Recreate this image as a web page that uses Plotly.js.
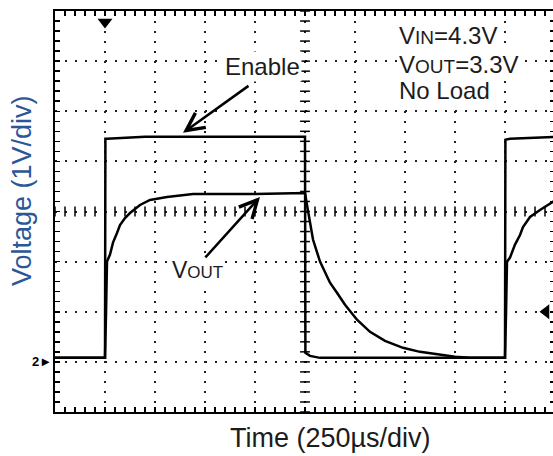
<!DOCTYPE html>
<html>
<head>
<meta charset="utf-8">
<script src="https://cdn.plot.ly/plotly-3.0.1.min.js"></script>
<style>
html,body{margin:0;padding:0;overflow:hidden;background:#fff;}
#chart{width:556px;height:456px;}
</style>
</head>
<body>
<div id="chart"></div>
<script>
// Time in microseconds (250 µs/div), voltage in volts (1 V/div)
const enableTime = [0, 245, 250, 252, 260, 450, 1245, 1250, 1252, 1275, 1325, 2245, 2250, 2252, 2275, 2500];
const enableVolt = [0.08, 0.08, 0.08, 4.45, 4.45, 4.49, 4.49, 4.49, 0.18, 0.12, 0.08, 0.08, 0.08, 4.43, 4.45, 4.49];

const voutTime = [0, 245, 250, 255, 260, 275, 290, 310, 325, 350, 375, 425, 475, 560, 690, 1000, 1250,
  1260, 1290, 1325, 1375, 1410, 1450, 1510, 1575, 1650, 1740, 1825, 1925, 2000, 2075, 2250,
  2255, 2260, 2275, 2300, 2325, 2340, 2375, 2425, 2500];
const voutVolt = [0.08, 0.08, 0.08, 0.94, 2.00, 2.14, 2.38, 2.57, 2.73, 2.87, 2.97, 3.13, 3.23, 3.29, 3.35, 3.35, 3.37,
  3.13, 2.44, 2.00, 1.58, 1.38, 1.14, 0.84, 0.60, 0.42, 0.28, 0.20, 0.14, 0.10, 0.08, 0.08,
  0.94, 2.00, 2.08, 2.34, 2.53, 2.69, 2.89, 3.03, 3.22];

const xTitle = 'Time (250µs/div)';
const yTitle = 'Voltage (1V/div)';
const timeRange = [0, 2500];
const voltRange = [-1, 7];
const timePerDiv = 250;
const voltPerDiv = 1;
const triggerTime = 250;
const triggerMarkTop = 6.78;
const triggerLevel = 1;
const triggerLevelTime = 2455;
const groundLevel = 0;

// center-graticule minor ticks
const xc = (timeRange[0] + timeRange[1]) / 2;
const yc = 3;
const hTickX = [], hTickY = [], vTickX = [], vTickY = [];
for (let t = timeRange[0]; t <= timeRange[1] + 1e-6; t += timePerDiv / 5) { hTickX.push(t); hTickY.push(yc); }
for (let v = voltRange[0]; v <= voltRange[1] + 1e-6; v += voltPerDiv / 5) { vTickX.push(xc); vTickY.push(+v.toFixed(2)); }

const font = 'Liberation Sans, Arial, sans-serif';
const txt = '#1c1c1c';

const traces = [
  {x: hTickX, y: hTickY, mode: 'markers', hoverinfo: 'skip', showlegend: false,
   marker: {symbol: 'line-ns', size: 7, line: {width: 1.5, color: '#000'}}},
  {x: vTickX, y: vTickY, mode: 'markers', hoverinfo: 'skip', showlegend: false,
   marker: {symbol: 'line-ew', size: 7, line: {width: 1.5, color: '#000'}}},
  {x: enableTime, y: enableVolt, mode: 'lines', name: 'Enable', showlegend: false,
   line: {color: '#000', width: 2.5}},
  {x: voutTime, y: voutVolt, mode: 'lines', name: 'VOUT', showlegend: false,
   line: {color: '#000', width: 2.5}},
  {x: [triggerTime], y: [triggerMarkTop], mode: 'markers', hoverinfo: 'skip', showlegend: false,
   marker: {symbol: 'triangle-down', size: 13, color: '#000', line: {width: 0}}},
  {x: [triggerLevelTime], y: [triggerLevel], mode: 'markers', hoverinfo: 'skip', showlegend: false,
   marker: {symbol: 'triangle-left', size: 13, color: '#000', line: {width: 0}}}
];

const axisCommon = {
  showline: true, linecolor: '#000', linewidth: 2, mirror: 'ticks',
  ticks: 'inside', ticklen: 5, tickwidth: 1.5, tickcolor: '#000',
  showticklabels: false, zeroline: false,
  showgrid: true, gridcolor: '#222', gridwidth: 2, griddash: '2px,8px'
};

const layout = {
  width: 556, height: 456,
  margin: {l: 55, r: 1, t: 11, b: 44},
  paper_bgcolor: '#fff', plot_bgcolor: '#fff',
  font: {family: font, color: txt},
  showlegend: false,
  xaxis: Object.assign({}, axisCommon, {
    range: timeRange, tick0: 0, dtick: timePerDiv,
    minor: {dtick: timePerDiv / 5, ticks: 'inside', ticklen: 5, tickwidth: 1.5, tickcolor: '#000'}
  }),
  yaxis: Object.assign({}, axisCommon, {
    range: voltRange, tick0: voltRange[0], dtick: voltPerDiv,
    minor: {dtick: voltPerDiv / 5, ticks: 'inside', ticklen: 5, tickwidth: 1.5, tickcolor: '#000'}
  }),
  annotations: [
    {xref: 'paper', yref: 'paper', x: 0.55, y: -0.065, xanchor: 'center', yanchor: 'middle',
     text: xTitle, showarrow: false, font: {size: 27, color: txt}},
    {xref: 'paper', yref: 'paper', x: -0.066, y: 0.551, xanchor: 'center', yanchor: 'middle',
     text: yTitle, showarrow: false, textangle: -90, font: {size: 27, color: '#2b5797'}},
    // Enable label and arrow
    {x: 1035, y: 5.9, text: 'Enable', showarrow: false, bgcolor: '#fff', font: {size: 24, color: txt}},
    {x: 640, y: 4.57, ax: 67, ay: -48, text: '', showarrow: true, arrowhead: 5, arrowsize: 1.4,
     arrowwidth: 2.5, arrowcolor: '#000'},
    // VOUT label and arrow
    {x: 712, y: 1.84, text: 'V<span style="font-size:17px">OUT</span>', showarrow: false, bgcolor: '#fff',
     font: {size: 23, color: txt}},
    {x: 1025, y: 3.29, ax: -56, ay: 62, text: '', showarrow: true, arrowhead: 5, arrowsize: 1.4,
     arrowwidth: 2.5, arrowcolor: '#000'},
    // Conditions
    {x: 1712, y: 6.51, xanchor: 'left', text: 'V<span style="font-size:19px">IN</span>=4.3V', showarrow: false,
     bgcolor: '#fff', font: {size: 24, color: txt}},
    {x: 1712, y: 5.93, xanchor: 'left', text: 'V<span style="font-size:19px">OUT</span>=3.3V', showarrow: false,
     bgcolor: '#fff', font: {size: 24, color: txt}},
    {x: 1712, y: 5.41, xanchor: 'left', text: 'No Load', showarrow: false,
     bgcolor: '#fff', font: {size: 24, color: txt}},
    // ground marker
    {xref: 'paper', x: -0.002, xanchor: 'right', y: groundLevel, yanchor: 'middle', text: '<b>2</b>►', showarrow: false,
     font: {size: 13, color: '#000'}}
  ]
};

Plotly.newPlot('chart', traces, layout, {displayModeBar: false, staticPlot: true});
</script>
</body>
</html>
